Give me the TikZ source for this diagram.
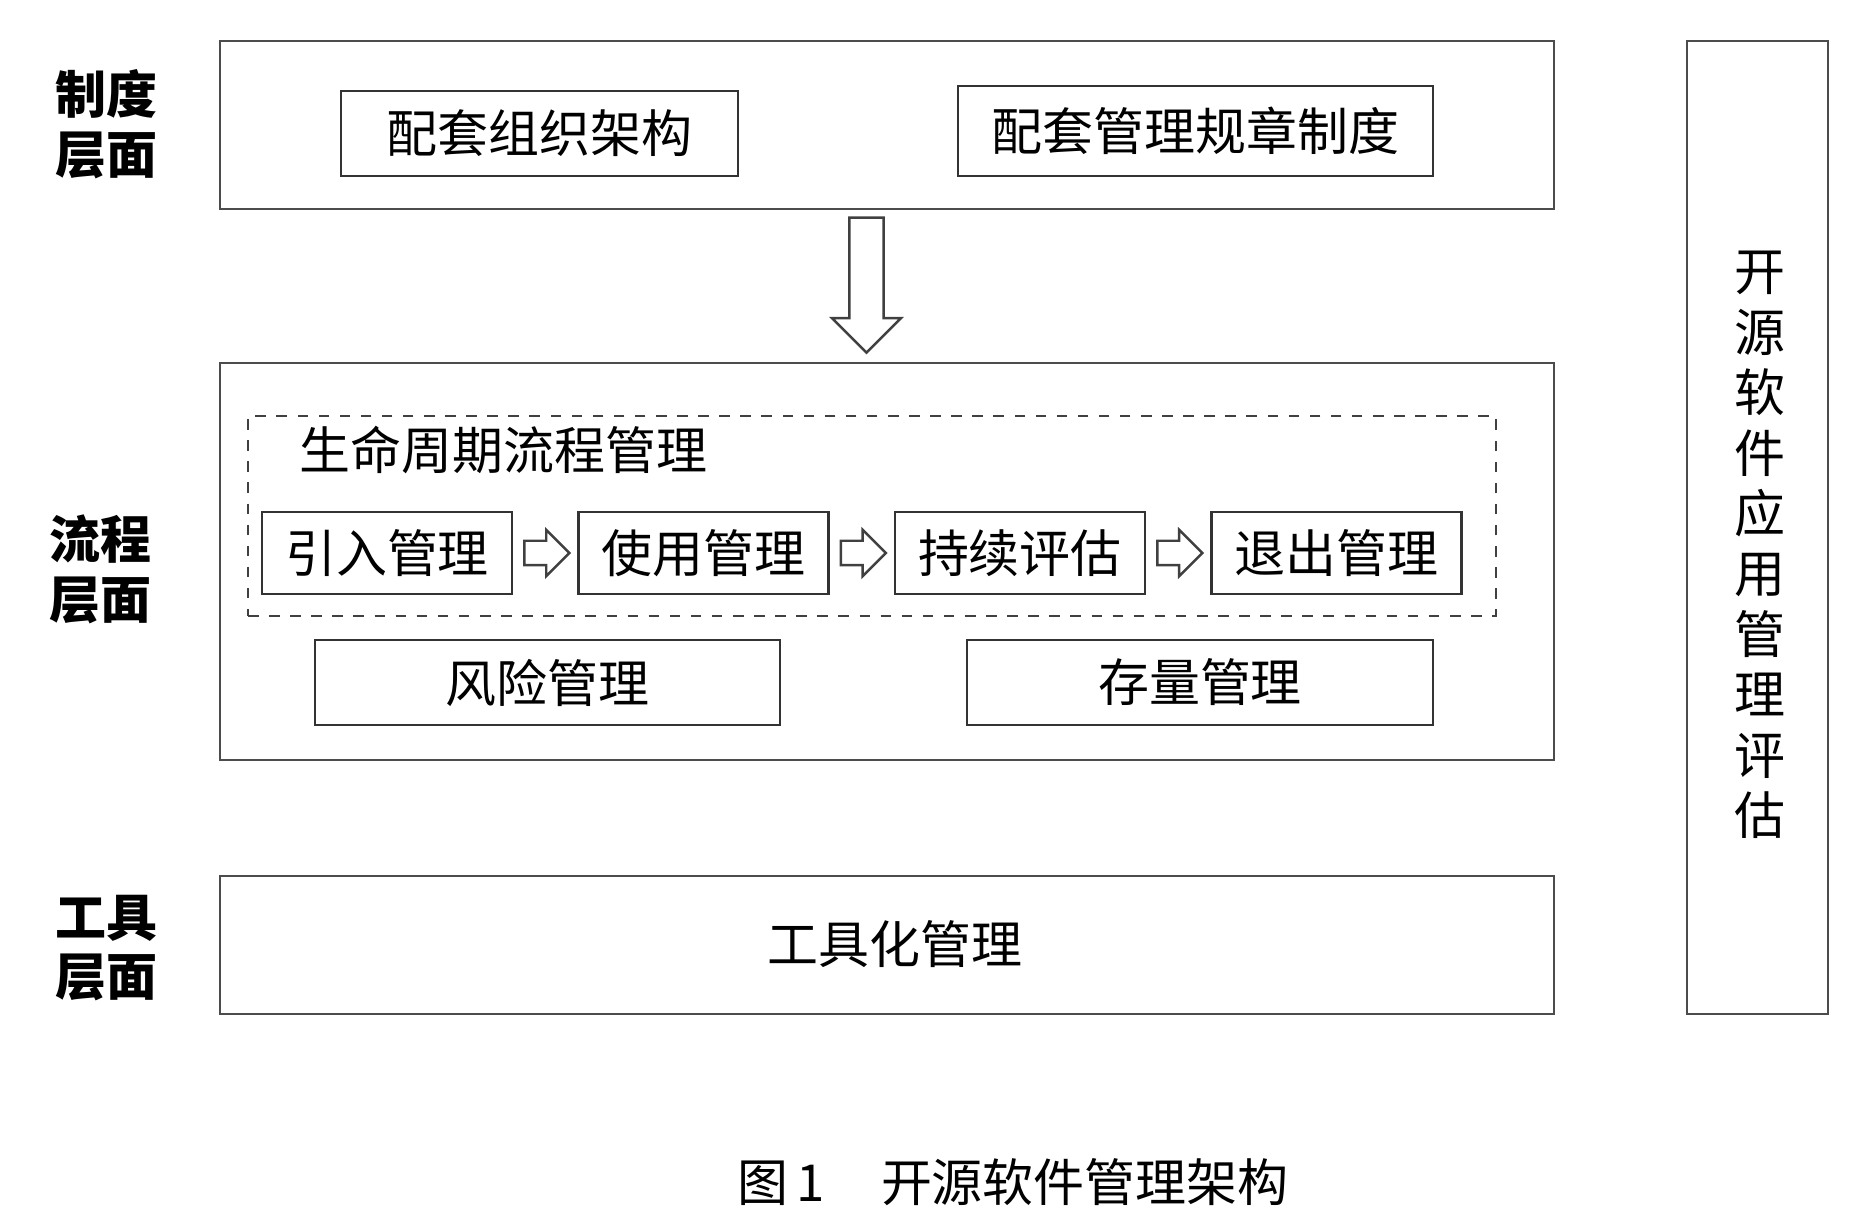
\documentclass[tikz,border=0pt]{standalone}
\usepackage{fontspec}
\setmainfont{Noto Sans CJK SC}
\usepackage{tikz}
\usetikzlibrary{shapes.arrows, positioning}
\tikzstyle{layer} = [rectangle, minimum width=13.34cm, draw=black!70, line width=0.8pt, font=\fontsize{14.5}{17}\selectfont]
\tikzstyle{item} = [rectangle, minimum height=0.85cm, text centered, draw=black!80, line width=0.7pt, font=\fontsize{14.5}{17}\selectfont]
\tikzstyle{flow} = [item, minimum width=2.5cm, minimum height=0.82cm]
\tikzstyle{side} = [align=center, font=\fontsize{14.5}{17}\selectfont\bfseries]
\tikzstyle{hollow} = [single arrow, draw=black!75, line width=0.7pt, single arrow head indent=0pt]
\tikzstyle{small} = [hollow, inner sep=0.11cm, minimum height=0.45cm, minimum width=0.44cm, single arrow head extend=0.11cm]

\begin{document}
\begin{tikzpicture}
        \useasboundingbox (0,0) rectangle (18.54,-12.28);
        % layers
        \node (rules) [layer, minimum height=1.68cm] at (8.87,-1.25) {};
        \node (process) [layer, minimum height=3.97cm] at (8.87,-5.615) {};
        \node (tools) [layer, minimum height=1.38cm] at (8.87,-9.45) {};
        \node (toolstext) [font=\fontsize{14.5}{17}\selectfont] at (8.95,-9.44) {工具化管理};
        \node (assess) [layer, minimum width=1.41cm, minimum height=9.73cm] at (17.575,-5.275) {};
        \node (assesstext) [align=center, font=\fontsize{14.5}{17.2}\selectfont] at (17.60,-5.45) {开\\源\\软\\件\\应\\用\\管\\理\\评\\估};

        \node (ruleslabel) [side] at (1.06,-1.245) {制度\\层面};
        \node (processlabel) [side] at (1.00,-5.69) {流程\\层面};
        \node (toolslabel) [side] at (1.06,-9.48) {工具\\层面};

        \node (org) [item, minimum width=3.97cm] at (5.395,-1.335) {配套组织架构};
        \node (regs) [item, minimum width=4.75cm, minimum height=0.9cm] at (11.955,-1.31) {配套管理规章制度};

        \node (down) [hollow, inner sep=0.155cm, minimum height=1.35cm, minimum width=0.69cm, single arrow head extend=0.17cm, shape border rotate=270] at (8.665,-2.765) {};

        % lifecycle
        \node (cycle) [rectangle, draw=black!75, dashed, line width=0.7pt, minimum width=12.48cm, minimum height=2.0cm] at (8.72,-5.16) {};
        \node (cycletitle) [anchor=west, font=\fontsize{14.5}{17}\selectfont] at (2.87,-4.50) {生命周期流程管理};
        \node (intro) [flow] at (3.87,-5.53) {引入管理};
        \node (use) [flow, right=0.64cm of intro] {使用管理};
        \node (eval) [flow, right=0.64cm of use] {持续评估};
        \node (exit) [flow, right=0.64cm of eval] {退出管理};
        \node (a1) [small, right=0.1cm of intro] {};
        \node (a2) [small, right=0.1cm of use] {};
        \node (a3) [small, right=0.1cm of eval] {};

        \node (risk) [item, minimum width=4.65cm] at (5.475,-6.825) {风险管理};
        \node (stock) [item, minimum width=4.66cm] at (12.00,-6.825) {存量管理};

        \node (caption) [font=\fontsize{14.5}{17}\selectfont] at (10.13,-11.82) {图\,1\hspace{1.1em}开源软件管理架构};
    \end{tikzpicture}
\end{document}
